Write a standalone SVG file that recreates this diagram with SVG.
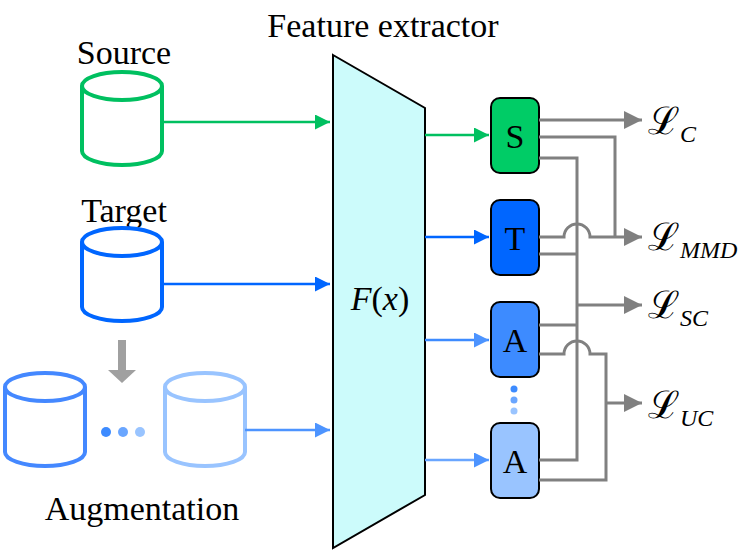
<svg xmlns="http://www.w3.org/2000/svg" width="751" height="550" viewBox="0 0 751 550">
<defs>
<marker id="mg" viewBox="0 0 10 10" refX="10" refY="5" markerWidth="6" markerHeight="6" orient="auto"><path d="M0,0L10,5L0,10z" fill="#808080"/></marker>
<marker id="mgr" viewBox="0 0 10 10" refX="10" refY="5" markerWidth="6" markerHeight="6" orient="auto"><path d="M0,0L10,5L0,10z" fill="#00c060"/></marker>
<marker id="mb" viewBox="0 0 10 10" refX="10" refY="5" markerWidth="6" markerHeight="6" orient="auto"><path d="M0,0L10,5L0,10z" fill="#0066ff"/></marker>
<marker id="ml" viewBox="0 0 10 10" refX="10" refY="5" markerWidth="6" markerHeight="6" orient="auto"><path d="M0,0L10,5L0,10z" fill="#4d94ff"/></marker>
</defs>
<style>
text{font-family:"Liberation Serif","DejaVu Serif",serif;fill:#000}
.lab{font-size:34px;text-anchor:middle}
.box{stroke:#000;stroke-width:2}
.bt{font-size:34px;text-anchor:middle}
.g{fill:none;stroke:#808080;stroke-width:3}
.cyl{fill:#fff;stroke-width:4}
.L{font-size:38px}
.sub{font-size:24px;font-style:italic}
</style>
<g id="labels">
<text class="lab" x="124" y="64">Source</text>
<text class="lab" x="124" y="222">Target</text>
<text class="lab" x="383" y="37">Feature extractor</text>
<text class="lab" x="142" y="520">Augmentation</text>
</g>
<g id="source" class="cyl" stroke="#00c060"><path d="M82,86 V151 A40,14 0 0 0 162,151 V86 A40,14 0 0 0 82,86 A40,14 0 0 0 162,86"/></g>
<g id="target" class="cyl" stroke="#0066ff"><path d="M82,242 V307 A40,14 0 0 0 162,307 V242 A40,14 0 0 0 82,242 A40,14 0 0 0 162,242"/></g>
<g id="aug1" class="cyl" stroke="#4488ff"><path d="M5,387 V452 A40,14 0 0 0 85,452 V387 A40,14 0 0 0 5,387 A40,14 0 0 0 85,387"/></g>
<g id="aug2" class="cyl" stroke="#99c4ff"><path d="M165,387 V452 A40,14 0 0 0 245,452 V387 A40,14 0 0 0 165,387 A40,14 0 0 0 245,387"/></g>
<g id="augdots"><circle cx="106" cy="432" r="5" fill="#3d8bff"/><circle cx="123" cy="432" r="5" fill="#6aa6ff"/><circle cx="140" cy="432" r="5" fill="#99c4ff"/></g>
<g id="extractor"><path d="M333,55 L425,108 L425,495 L333,548 Z" fill="#ccfbfb" stroke="#000" stroke-width="2"/>
<text x="380" y="310" font-size="34" text-anchor="middle" font-style="italic">F<tspan font-style="normal">(</tspan>x<tspan font-style="normal">)</tspan></text></g>
<g id="S"><rect class="box" x="491" y="98" width="48" height="75" rx="9" fill="#00cc66"/><text class="bt" x="515" y="148">S</text></g>
<g id="T"><rect class="box" x="491" y="200" width="48" height="75" rx="9" fill="#0066ff"/><text class="bt" x="515" y="250">T</text></g>
<g id="A1"><rect class="box" x="491" y="302" width="48" height="75" rx="9" fill="#3d8bff"/><text class="bt" x="515" y="352">A</text></g>
<g id="A2"><rect class="box" x="491" y="423" width="48" height="75" rx="9" fill="#99c4ff"/><text class="bt" x="515" y="473">A</text></g>
<g id="adots"><circle cx="514" cy="389" r="3.5" fill="#3d8bff"/><circle cx="514" cy="400" r="3.5" fill="#6aa6ff"/><circle cx="514" cy="411" r="3.5" fill="#99c4ff"/></g>
<g id="losses">
<text class="L" x="648" y="134">ℒ<tspan class="sub" dy="8">C</tspan></text>
<text class="L" x="648" y="250">ℒ<tspan class="sub" dy="8">MMD</tspan></text>
<text class="L" x="648" y="318">ℒ<tspan class="sub" dy="8">SC</tspan></text>
<text class="L" x="648" y="418">ℒ<tspan class="sub" dy="8">UC</tspan></text>
</g>
<g id="connectors">
<path d="M122,340 V372" stroke="#a0a0a0" stroke-width="8"/>
<path d="M108,370 L136,370 L122,383 Z" fill="#a0a0a0"/>
<path d="M162,122 H330" stroke="#00c060" stroke-width="2.5" marker-end="url(#mgr)"/>
<path d="M162,284 H330" stroke="#0066ff" stroke-width="2.5" marker-end="url(#mb)"/>
<path d="M245,430 H330" stroke="#4d94ff" stroke-width="2.5" marker-end="url(#ml)"/>
<path d="M425,135 H489" stroke="#00c060" stroke-width="2.5" marker-end="url(#mgr)"/>
<path d="M425,237 H489" stroke="#0066ff" stroke-width="2.5" marker-end="url(#mb)"/>
<path d="M425,340 H489" stroke="#3d8bff" stroke-width="2.5" marker-end="url(#ml)"/>
<path d="M425,460 H489" stroke="#6aa6ff" stroke-width="2.5" marker-end="url(#ml)"/>
<path class="g" d="M539,120 H642" marker-end="url(#mg)"/>
<path class="g" d="M539,137 H615 V237"/>
<path class="g" d="M539,158 H577 V460 H539"/>
<path class="g" d="M539,237 H564 A13,13 0 0 1 590,237 H642" marker-end="url(#mg)"/>
<path class="g" d="M539,254 H577"/>
<path class="g" d="M577,305 H642" marker-end="url(#mg)"/>
<path class="g" d="M539,325 H577"/>
<path class="g" d="M539,354 H564 A13,13 0 0 1 590,354 H606 V480 H539"/>
<path class="g" d="M606,403 H642" marker-end="url(#mg)"/>
</g>
</svg>
